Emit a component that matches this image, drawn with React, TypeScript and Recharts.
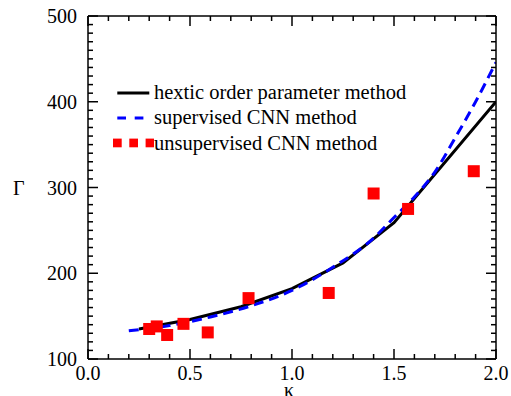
import React from 'react';
import { ComposedChart, Line, Scatter, XAxis, YAxis, Legend } from 'recharts';

// values
const hexticKappa = [0.25, 0.5, 0.75, 1.0, 1.25, 1.5, 2.0];
const hexticGamma = [135, 146, 161, 182, 212, 259, 400];

const supervisedKappa = [0.2, 0.4, 0.6, 0.8, 1.0, 1.2, 1.4, 1.5, 1.6, 1.7, 1.8, 1.9, 2.0];
const supervisedGamma = [133, 139, 149, 162, 180, 207, 241, 265, 289, 318, 358, 400, 446];

const unsupervisedKappa = [0.3, 0.337, 0.388, 0.468, 0.587, 0.787, 1.18, 1.4, 1.569, 1.891];
const unsupervisedGamma = [135, 138, 128, 141, 131, 171, 177, 293, 275, 319];

const xMajorTicks = [0, 0.5, 1.0, 1.5, 2.0];
const yMajorTicks = [100, 200, 300, 400, 500];

const seriesNames = ['hextic order parameter method', 'supervised CNN method', 'unsupervised CNN method'];

const steps = (from: number, to: number, step: number) =>
  Array.from({ length: Math.round((to - from) / step) + 1 }, (_, i) => +(from + i * step).toFixed(2));
const xMinorTicks = steps(0, 2, 0.1);
const yMinorTicks = steps(100, 500, 10);

const toRows = (ks: number[], gs: number[]) => ks.map((k, i) => ({ k, g: gs[i] }));
const hexticData = toRows(hexticKappa, hexticGamma);
const supervisedData = toRows(supervisedKappa, supervisedGamma);
const unsupervisedData = toRows(unsupervisedKappa, unsupervisedGamma);

const FONT = 'Liberation Serif';
const frame = { stroke: '#000', strokeWidth: 1.5 };
const MAJOR = 10;
const MINOR = 5;

const isMajor = (v: number, majors: number[]) => majors.some((m) => Math.abs(m - v) < 1e-6);

// tick marks point into the plot; only major ticks carry a label
const makeTick = (side: 'bottom' | 'top' | 'left' | 'right') => (props: any) => {
  const { x, y, payload } = props;
  const v = payload.value as number;
  const major = isMajor(v, side === 'bottom' || side === 'top' ? xMajorTicks : yMajorTicks);
  const len = major ? MAJOR : MINOR;
  const end = {
    bottom: [x, y - len],
    top: [x, y + len],
    left: [x + len, y],
    right: [x - len, y],
  }[side];
  return (
    <g>
      <line x1={x} y1={y} x2={end[0]} y2={end[1]} stroke="#000" strokeWidth={1.5} />
      {major && side === 'bottom' && (
        <text x={x} y={y + 7} dy="0.71em" textAnchor="middle" fill="#000" fontSize={20} fontFamily={FONT}>
          {v.toFixed(1)}
        </text>
      )}
      {major && side === 'left' && (
        <text x={x - 11} y={y} dy="0.35em" textAnchor="end" fill="#000" fontSize={20} fontFamily={FONT}>
          {v}
        </text>
      )}
    </g>
  );
};

const RedSquare = (props: any) => (
  <rect x={props.cx - 6} y={props.cy - 6} width={12} height={12} fill="#ff0000" />
);

const LegendBox = () => {
  const icons = [
    <line x1={4.3} x2={36.3} y1={12} y2={12} stroke="#000" strokeWidth={3} />,
    <line x1={4.3} x2={31} y1={12} y2={12} stroke="#0000ff" strokeWidth={3} strokeDasharray="8.7 8.7" />,
    <g>
      {[0, 16.3, 32.6].map((x) => (
        <rect key={x} x={x} y={7.6} width={8.7} height={8.7} fill="#ff0000" />
      ))}
    </g>,
  ];
  return (
    <div style={{ fontFamily: FONT, fontSize: 20.5, color: '#000', lineHeight: '25.3px' }}>
      {seriesNames.map((name, i) => (
        <div key={name} style={{ display: 'flex', alignItems: 'center', height: 25.3 }}>
          <svg width={41} height={24} style={{ display: 'block' }}>
            {icons[i]}
          </svg>
          <span style={{ whiteSpace: 'nowrap' }}>{name}</span>
        </div>
      ))}
    </div>
  );
};

export default function App() {
  return (
    <div style={{ position: 'absolute', left: 0, top: 0, width: 511, height: 396, background: '#fff' }}>
      <ComposedChart width={511} height={396} margin={{ top: 15, right: 14, bottom: 0, left: 0 }}>
        <XAxis
          xAxisId="bottom"
          type="number"
          dataKey="k"
          domain={[0, 2]}
          allowDataOverflow
          ticks={xMinorTicks}
          interval={0}
          height={37}
          tickSize={0}
          tickMargin={0}
          tickLine={false}
          axisLine={frame}
          tick={makeTick('bottom')}
          label={{ value: 'κ', position: 'insideBottom', offset: 0, dx: -3, dy: 1, fill: '#000', fontSize: 20, fontFamily: FONT }}
        />
        <XAxis
          xAxisId="top"
          orientation="top"
          type="number"
          dataKey="k"
          domain={[0, 2]}
          allowDataOverflow
          ticks={xMinorTicks}
          interval={0}
          height={1}
          tickSize={0}
          tickMargin={0}
          tickLine={false}
          axisLine={frame}
          tick={makeTick('top')}
        />
        <YAxis
          yAxisId="left"
          type="number"
          dataKey="g"
          domain={[100, 500]}
          allowDataOverflow
          ticks={yMinorTicks}
          interval={0}
          width={88}
          tickSize={0}
          tickMargin={0}
          tickLine={false}
          axisLine={frame}
          tick={makeTick('left')}
          label={{ value: 'Γ', position: 'insideLeft', offset: 13, fill: '#000', fontSize: 20, fontFamily: FONT }}
        />
        <YAxis
          yAxisId="right"
          orientation="right"
          type="number"
          dataKey="g"
          domain={[100, 500]}
          allowDataOverflow
          ticks={yMinorTicks}
          interval={0}
          width={1}
          tickSize={0}
          tickMargin={0}
          tickLine={false}
          axisLine={frame}
          tick={makeTick('right')}
        />

        <Legend
          layout="vertical"
          align="center"
          verticalAlign="middle"
          wrapperStyle={{ left: 113, top: 80, width: 'auto' }}
          content={() => <LegendBox />}
        />

        <Line
          xAxisId="bottom"
          yAxisId="left"
          data={hexticData}
          dataKey="g"
          name={seriesNames[0]}
          type="linear"
          stroke="#000"
          strokeWidth={3}
          dot={false}
          isAnimationActive={false}
        />
        <Line
          xAxisId="top"
          yAxisId="right"
          data={supervisedData}
          dataKey="g"
          name={seriesNames[1]}
          type="monotone"
          stroke="#0000ff"
          strokeWidth={3}
          strokeDasharray="10 6"
          dot={false}
          isAnimationActive={false}
        />
        <Scatter
          xAxisId="bottom"
          yAxisId="left"
          data={unsupervisedData}
          name={seriesNames[2]}
          fill="#ff0000"
          shape={RedSquare}
          isAnimationActive={false}
        />
      </ComposedChart>
    </div>
  );
}
